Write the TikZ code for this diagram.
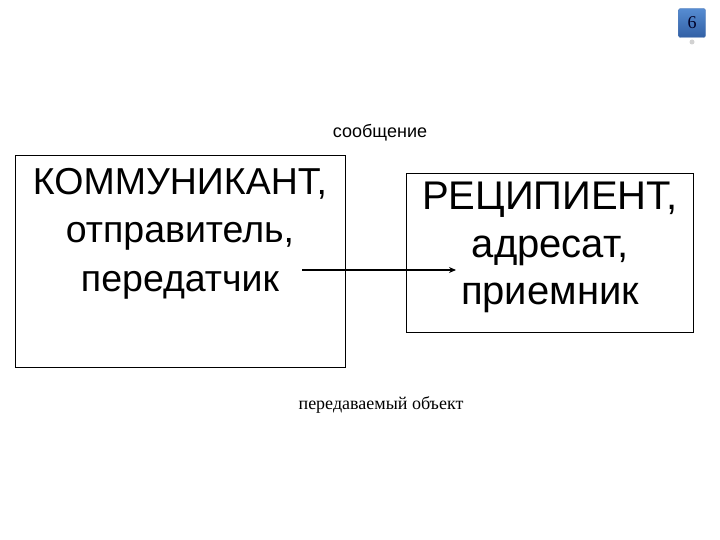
\documentclass[tikz,border=0pt]{standalone}
\usepackage{fontspec}
\setmainfont{Liberation Serif}
\newfontfamily\arialfont{Liberation Sans}
\usetikzlibrary{arrows.meta}

\definecolor{badgeblue}{RGB}{86,140,210}
\definecolor{badgedark}{RGB}{50,96,165}

\tikzset{
  framebox/.style={draw=black, line width=0.8pt, inner sep=0pt},
  bigtext/.style={font=\arialfont\fontsize{37.5}{48.5}\selectfont, align=center, inner sep=0pt, anchor=north},
  smalltext/.style={font=\fontsize{18}{21}\selectfont, inner sep=0pt, anchor=base},
  badge/.style={rounded corners=2pt, top color=badgeblue, bottom color=badgedark,
    draw=badgedark!80, minimum width=27pt, minimum height=29pt, inner sep=0pt,
    text=black!85!blue, font=\fontsize{18}{20}\selectfont}
}

\begin{document}
\begin{tikzpicture}[x=1pt, y=-1pt]
    \useasboundingbox (0,0) rectangle (720,540);

    % page number tab
    \fill[gray!35] (692,42) circle (2.5pt);
    \node[badge] (pagenum) at (692,23) {6};

    % the two boxes
    \node[framebox, minimum width=330pt, minimum height=212pt] (komm) at (180,261) {};
    \node[framebox, minimum width=287pt, minimum height=159pt] (recip) at (549.5,252.5) {};

    \node[bigtext] (kommtext) at (180,168) {КОММУНИКАНТ,\\ отправитель,\\ передатчик};
    \node[bigtext, font=\arialfont\fontsize{40}{47.5}\selectfont] (reciptext) at (550,182) {РЕЦИПИЕНТ,\\ адресат,\\ приемник};

    % message
    \node[smalltext, font=\arialfont\fontsize{18}{21}\selectfont] (msg) at (380,138) {сообщение};
    \node[smalltext] (obj) at (381,409) {передаваемый объект};

    \coordinate (msgstart) at (302,270);
    \coordinate (msgend) at (456,270);
    \draw[line width=1.4pt, -{Stealth[length=7pt, width=6pt]}] (msgstart) -- (msgend);
\end{tikzpicture}
\end{document}
